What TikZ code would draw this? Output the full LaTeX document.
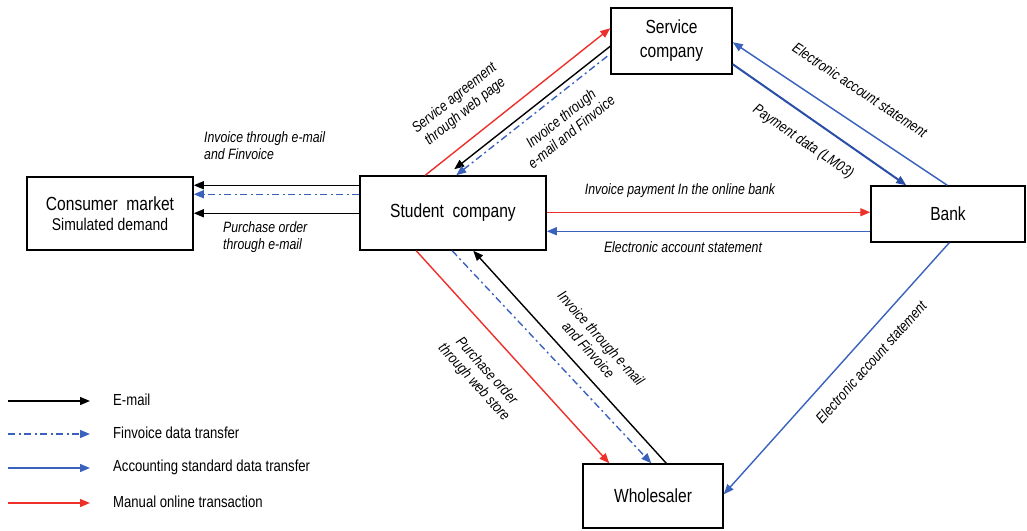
\documentclass[tikz,border=0pt]{standalone}
\usepackage{fontspec}
\setmainfont{Liberation Sans}[FakeStretch=0.82]
\usetikzlibrary{arrows.meta,calc}
\definecolor{flowred}{RGB}{237,48,42}
\definecolor{flowblue}{RGB}{58,98,188}
\definecolor{flowdblue}{RGB}{40,78,168}
\begin{document}
\begin{tikzpicture}[x=1pt,y=-1pt,
  box/.style={draw=black,line width=1.5pt,fill=white,inner sep=0pt,align=center,
    font=\fontsize{19}{24}\selectfont},
  lbl/.style={align=center,inner sep=0pt,font=\fontsize{15}{17}\selectfont\itshape},
  legtext/.style={anchor=west,inner sep=0pt,font=\fontsize{16}{18}\selectfont},
  tip/.style={-{Triangle[length=10pt,width=8pt]}},
  mail/.style={tip,draw=black,line width=1.4pt},
  finv/.style={tip,draw=flowblue,line width=1.4pt,dash pattern=on 7pt off 3.5pt on 2pt off 3.5pt},
  acct/.style={tip,draw=flowblue,line width=1.4pt},
  manual/.style={tip,draw=flowred,line width=1.4pt}]
\useasboundingbox (0,0) rectangle (1027,530);

% organisations
\node[box,minimum width=166pt,minimum height=73pt] (cons) at (110,213.5)
  {Consumer\ \ market\\[-4pt]{\fontsize{17}{20}\selectfont Simulated demand}};
\node[box,minimum width=186pt,minimum height=74pt] (stu) at (453,213) {Student\ \ company};
\node[box,minimum width=121pt,minimum height=66pt] (serv) at (671.5,41) {Service\\company};
\node[box,minimum width=154pt,minimum height=56pt] (bank) at (948,214) {Bank};
\node[box,minimum width=140pt,minimum height=64pt] (whol) at (653,496) {Wholesaler};

% student company <-> service company
\draw[manual] ($(stu.north west)+(66,0)$) -- ($(serv.north west)+(0,21)$);
\draw[mail] ($(serv.north west)+(0,39)$) -- ($(stu.north west)+(95,-6)$);
\draw[finv] ($(serv.north west)+(-3,49)$) -- ($(stu.north west)+(97,0)$);

% service company <-> bank
\draw[tip,draw=flowdblue,line width=2pt] ($(serv.north east)+(0,57)$) -- ($(bank.north west)+(36,0)$);
\draw[acct] ($(bank.north west)+(77,0)$) -- ($(serv.north east)+(0,35)$);

% student company <-> bank
\draw[manual] ($(stu.north east)+(0,37)$) -- ($(bank.north west)+(0,27)$);
\draw[acct] ($(bank.north west)+(0,46)$) -- ($(stu.north east)+(0,56)$);

% student company -> consumer market
\draw[mail] ($(stu.north west)+(0,10)$) -- ($(cons.north east)+(0,9)$);
\draw[finv] ($(stu.north west)+(0,19)$) -- ($(cons.north east)+(0,18)$);
\draw[mail] ($(stu.north west)+(0,38)$) -- ($(cons.north east)+(0,37)$);

% student company <-> wholesaler
\draw[manual] ($(stu.south west)+(57,0)$) -- ($(whol.north west)+(27,0)$);
\draw[finv] ($(stu.south west)+(93,0)$) -- ($(whol.north west)+(69,0)$);
\draw[mail] ($(whol.north west)+(84,0)$) -- ($(stu.south west)+(114,0)$);

% bank -> wholesaler
\draw[acct] ($(bank.south west)+(79,0)$) -- ($(whol.north east)+(0,31)$);

% flow labels
\node[lbl,rotate=38.7] (tSA) at (460,105) {Service agreement\\through web page};
\node[lbl,rotate=38.7] (tIS) at (566,125) {Invoice through\\e-mail and Finvoice};
\node[lbl,rotate=-33.6] (tEA1) at (860,90) {Electronic account statement};
\node[lbl,rotate=-34.4] (tPD) at (803,142) {Payment data (LM03)};
\node[lbl] (tIP) at (680,191) {Invoice payment In the online bank};
\node[lbl] (tEA2) at (683,247) {Electronic account statement};
\node[lbl,anchor=west,align=left] (tIC) at (204,146) {Invoice through e-mail\\and Finvoice};
\node[lbl,anchor=west,align=left] (tPC) at (223,237) {Purchase order\\through e-mail};
\node[lbl,rotate=-48] (tPW) at (480,377) {Purchase order\\through web store};
\node[lbl,rotate=-48] (tIW) at (595,344) {Invoice through e-mail\\and Finvoice};
\node[lbl,rotate=48.3] (tEA3) at (871,362) {Electronic account statement};

% legend
\coordinate (l1a) at (8,401);   \coordinate (l1b) at (90,401);
\coordinate (l2a) at (8,434);   \coordinate (l2b) at (90,434);
\coordinate (l3a) at (8,468);   \coordinate (l3b) at (90,468);
\coordinate (l4a) at (8,503);   \coordinate (l4b) at (90,503);
\draw[mail] (l1a) -- (l1b);
\draw[finv] (l2a) -- (l2b);
\draw[acct] (l3a) -- (l3b);
\draw[manual] (l4a) -- (l4b);
\node[legtext] (g1) at (113,400) {E-mail};
\node[legtext] (g2) at (113,433) {Finvoice data transfer};
\node[legtext] (g3) at (113,467) {Accounting standard data transfer};
\node[legtext] (g4) at (113,502) {Manual online transaction};
\end{tikzpicture}
\end{document}
